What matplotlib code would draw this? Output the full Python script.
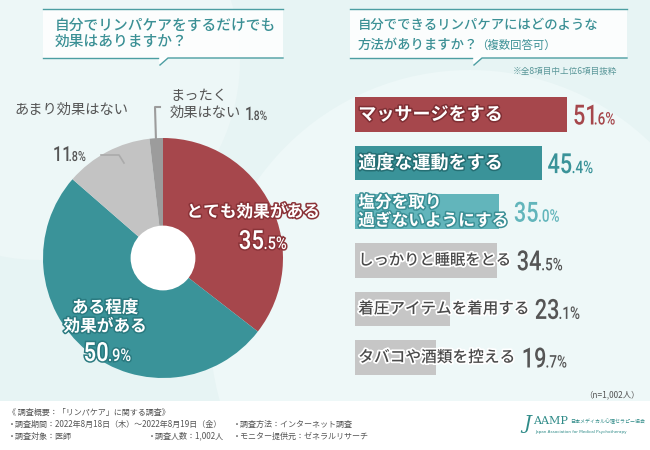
import matplotlib
matplotlib.use("Agg")
import matplotlib.pyplot as plt
import matplotlib.patheffects as pe
from matplotlib.patches import Rectangle, Polygon, Circle, PathPatch
from matplotlib.lines import Line2D
from matplotlib.textpath import TextPath
from matplotlib.transforms import Affine2D
from matplotlib.font_manager import FontProperties

plt.rcParams['font.family'] = ['Noto Sans CJK JP', 'DejaVu Sans']

# ---------------- data ----------------
pie_labels = ["とても効果がある", "ある程度効果がある", "あまり効果はない", "まったく効果はない"]
pie_values = [35.5, 50.9, 11.8, 1.8]
pie_colors = ["#a6474c", "#3a9399", "#c3c3c3", "#9c9c9c"]

bar_labels = ["マッサージをする", "適度な運動をする", "塩分を取り\n過ぎないようにする",
              "しっかりと睡眠をとる", "着圧アイテムを着用する", "タバコや酒類を控える"]
bar_values = [51.6, 45.4, 35.0, 34.5, 23.1, 19.7]
bar_colors = ["#a6474c", "#3a9399", "#62b5bb", "#c6c6c6", "#c6c6c6", "#c6c6c6"]
bar_text_colors = ["white", "white", "white", "#4a4a4a", "#4a4a4a", "#4a4a4a"]
bar_value_colors = ["#a6474c", "#3a9399", "#62b5bb", "#555555", "#555555", "#555555"]

title_left = "自分でリンパケアをするだけでも\n効果はありますか？"
title_right_1 = "自分でできるリンパケアにはどのような"
title_right_2 = "方法がありますか？"
title_right_3 = "（複数回答可）"
note_right = "※全8項目中上位6項目抜粋"
n_text = "（n=1,002人）"
footer_lines = [
    ("《 調査概要：「リンパケア」に関する調査》", None, None),
    ("・調査期間：2022年8月18日（木）～2022年8月19日（金）", None, "・調査方法：インターネット調査"),
    ("・調査対象：医師", "・調査人数：1,002人", "・モニター提供元：ゼネラルリサーチ"),
]

W, H = 650, 450
fig = plt.figure(figsize=(6.5, 4.5), dpi=100)
fig.patch.set_facecolor("#e7f4f4")

lay = fig.add_axes([0, 0, 1, 1])
lay.set_xlim(0, W)
lay.set_ylim(H, 0)
lay.axis("off")
lay.set_zorder(0)

lay.add_patch(Circle((470, 330), 260, facecolor="#eef8f8", edgecolor="none", zorder=0))
lay.add_patch(Circle((40, 60), 200, facecolor="#edf7f7", edgecolor="none", zorder=0))
lay.add_patch(Rectangle((0, 401), W, 49, facecolor="white", edgecolor="none", zorder=1))

TEAL_LINE = "#4c9ea2"
TITLE_C = "#3b9095"


def callout(x0, x1, y0, y1, px):
    lay.add_patch(Rectangle((x0, y0), x1 - x0, y1 - y0, facecolor="white",
                            alpha=0.85, edgecolor="none", zorder=2))
    lay.add_patch(Polygon([(px - 6, y1), (px - 4, y1 + 7), (px + 4, y1)],
                          facecolor="white", edgecolor="none", zorder=2))
    lay.add_line(Line2D([x0, x1], [y0, y0], color=TEAL_LINE, lw=1.0, zorder=3))
    lay.add_line(Line2D([x0, px - 6], [y1, y1], color=TEAL_LINE, lw=1.0, zorder=3))
    lay.add_line(Line2D([px - 4, px + 4, x1], [y1 + 7, y1, y1], color=TEAL_LINE, lw=1.0, zorder=3))


callout(43, 283, 9, 58, 164)
callout(350, 627, 9, 58, 478)

lay.text(55, 34, title_left, color=TITLE_C, fontsize=10.6, va="center", ha="left",
         linespacing=1.15, zorder=4, weight="medium")
lay.text(358, 25, title_right_1, color=TITLE_C, fontsize=9.6, va="center", ha="left", zorder=4,
         weight="medium")
t2 = lay.text(358, 45, title_right_2, color=TITLE_C, fontsize=9.6, va="center", ha="left", zorder=4,
              weight="medium")
lay.annotate(title_right_3, xy=(1, 0.5), xycoords=t2, xytext=(-2, 0), textcoords="offset points",
             color=TITLE_C, fontsize=8.2, va="center", ha="left", zorder=4)
lay.text(617, 71, note_right, color="#5a9799", fontsize=6.2, ha="right", va="center", zorder=4)

# ---------------- pie ----------------
cx, cy, R = 163, 258, 120
pax = fig.add_axes([(cx - R) / W, (H - cy - R) / H, 2 * R / W, 2 * R / H])
pax.set_zorder(2)
pax.pie(pie_values, colors=pie_colors, startangle=90, counterclock=False, radius=1.0,
        wedgeprops=dict(linewidth=0))
pax.add_patch(Circle((0, 0), 0.27, facecolor="white", edgecolor="none"))
pax.set_xlim(-1, 1)
pax.set_ylim(-1, 1)
pax.set_aspect("equal")
pax.axis("off")

stroke_red = [pe.withStroke(linewidth=2.2, foreground="#8a3338")]
stroke_teal = [pe.withStroke(linewidth=2.2, foreground="#2a7a80")]

top = fig.add_axes([0, 0, 1, 1])
top.set_xlim(0, W)
top.set_ylim(H, 0)
top.axis("off")
top.set_zorder(5)
top.patch.set_alpha(0)

NUM_FP = FontProperties(family="Roboto", weight="medium")


def pct_text(x, y, value, color, big, small, ha="left", effects=None, sx=0.78):
    """Condensed percentage label; x,y in pixel coords of `top` (y = baseline)."""
    ip, dp = f"{value:.1f}".split(".")
    sb = big * 100 / 72
    ss = small * 100 / 72
    p1 = TextPath((0, 0), ip, size=sb, prop=NUM_FP)
    p2 = TextPath((0, 0), "." + dp + "%", size=ss, prop=NUM_FP)
    w1 = p1.get_extents().x1
    w2 = p2.get_extents().x1
    gap = 0.5
    total = (w1 + gap + w2) * sx
    if ha == "right":
        x0 = x - total
    elif ha == "center":
        x0 = x - total / 2
    else:
        x0 = x
    for p, off in ((p1, 0), (p2, (w1 + gap) * sx)):
        tp = Affine2D().scale(sx, -1).translate(x0 + off, y).transform_path(p)
        patch = PathPatch(tp, facecolor=color, edgecolor="none", lw=0, zorder=6)
        if effects:
            patch.set_path_effects(effects)
        top.add_patch(patch)


# inside labels
top.text(253, 212, pie_labels[0], color="white", fontsize=12, ha="center", va="center",
         weight="bold", path_effects=stroke_red)
pct_text(286, 249, pie_values[0], "white", 19, 12.5, ha="right", sx=0.84,
         effects=[pe.withStroke(linewidth=2.2, foreground="#8a3338")])
top.text(105, 317, "ある程度\n効果がある", color="white", fontsize=12, ha="center", va="center",
         weight="bold", linespacing=1.05, path_effects=stroke_teal)
pct_text(107, 361, pie_values[1], "white", 19, 12.5, ha="center", sx=0.84,
         effects=[pe.withStroke(linewidth=2.2, foreground="#2a7a80")])

# outside labels
GRAYT = "#555555"
top.text(14, 110, pie_labels[2], color=GRAYT, fontsize=10.3, ha="left", va="center")
pct_text(53, 161, pie_values[2], GRAYT, 15, 10)
top.add_line(Line2D([101, 119, 124], [155, 155, 163], color="#aaaaaa", lw=1.2))

top.text(170, 96, "まったく", color=GRAYT, fontsize=10.3, ha="left", va="center")
top.text(170, 113, "効果はない", color=GRAYT, fontsize=10.3, ha="left", va="center")
pct_text(245, 120, pie_values[3], GRAYT, 13.5, 9.5)
top.add_line(Line2D([160, 155, 156], [107, 107, 141], color="#9c9c9c", lw=1.5))

# ---------------- bars ----------------
bx0 = 355
ppu = 212 / 51.6
bw_px = 285
y_top, y_bot = 90.2, 381.8
bax = fig.add_axes([bx0 / W, (H - y_bot) / H, bw_px / W, (y_bot - y_top) / H])
bax.set_zorder(3)
bax.patch.set_alpha(0)
bax.set_xlim(0, bw_px / ppu)
bax.set_ylim(len(bar_values) - 0.5, -0.5)
bax.axis("off")
ypos = list(range(len(bar_values)))
bax.barh(ypos, bar_values, height=0.71, color=bar_colors, linewidth=0)

fig.canvas.draw()
renderer = fig.canvas.get_renderer()
sizes = [13, 13, 12, 11, 11.2, 11.3]
dark_edges = {0: "#7e2f34", 1: "#256e73", 2: "#3b8f95"}
for i, (lab, v) in enumerate(zip(bar_labels, bar_values)):
    if bar_text_colors[i] == "white":
        fx = [pe.withStroke(linewidth=2.2, foreground=dark_edges[i])]
    else:
        fx = [pe.withStroke(linewidth=2.5, foreground="white")]
    t = bax.text(0.8, i, lab, color=bar_text_colors[i], fontsize=sizes[i], va="center", ha="left",
                 weight="bold" if i < 3 else "medium", linespacing=1.0, path_effects=fx, zorder=5)
    bb = t.get_window_extent(renderer)
    bar_end = bax.transData.transform((v, i))
    end_px = max(bb.x1, bar_end[0])
    ycen = H - bar_end[1]
    pct_text(end_px + 6, ycen + 10, v, bar_value_colors[i], 20, 12.5)

# ---------------- footer ----------------
top.text(640, 395, n_text, color=GRAYT, fontsize=6, ha="right", va="center")
fy = [412, 424, 436]
fxs = [8, 148, 233]
for row, y in zip(footer_lines, fy):
    for txt, x in zip(row, fxs):
        if txt:
            top.text(x, y, txt, color="#555555", fontsize=5.8, ha="left", va="center")
# logo
LOGO = "#2f8b88"
top.text(523, 424, "J", color=LOGO, fontsize=14, family=["DejaVu Serif"], style="italic",
         ha="left", va="center")
top.text(533, 421, "AAMP", color=LOGO, fontsize=8, family=["DejaVu Serif"],
         ha="left", va="center")
top.text(570, 421, "日本メディカル心理セラピー協会", color=LOGO, fontsize=3.6, ha="left", va="center")
top.text(535, 432, "Japan Association for Medical Psychotherapy", color=LOGO, fontsize=3.0,
         ha="left", va="center", family=["DejaVu Sans"])

fig.savefig("out.png", dpi=100, facecolor=fig.get_facecolor())
